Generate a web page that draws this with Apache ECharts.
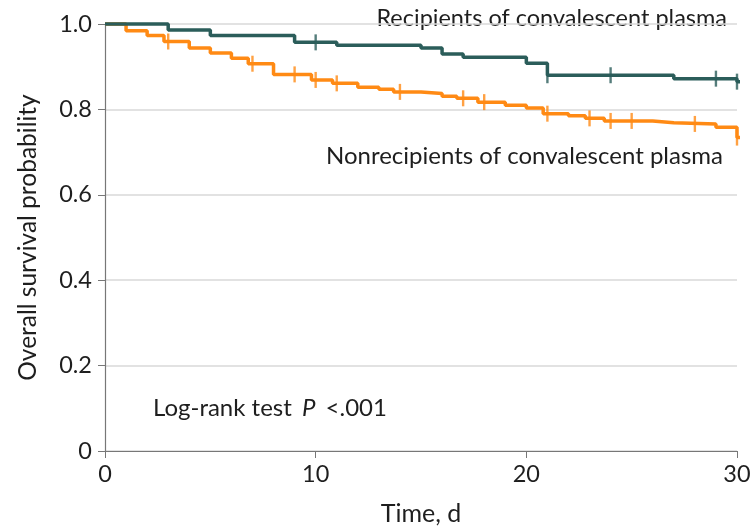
<!DOCTYPE html>
<html>
<head>
<meta charset="utf-8">
<script src="https://cdn.jsdelivr.net/npm/echarts@6/dist/echarts.min.js"></script>
<style>
  html, body { margin: 0; padding: 0; background: #fff; }
  #chart { width: 754px; height: 531px; }
</style>
</head>
<body>
<div id="chart"></div>
<script>
// Kaplan-Meier steps (day, survival after the drop)
var recipTimes = [0, 3, 5, 9, 11, 15, 16, 17, 20, 21, 27, 30, 30.3]
var recipSurv = [1, 0.986, 0.973, 0.957, 0.950, 0.944, 0.930, 0.922, 0.908, 0.880, 0.872, 0.865, 0.865]
var recipCensor = [10, 21, 24, 29, 30]

var nonTimes = [0, 1, 2, 2.8, 4, 5, 6, 6.8, 8, 9.8, 10.8, 12, 13, 13.7, 15, 16, 16.7, 17.7, 19, 20, 20.8, 22, 22.8, 23.7, 26, 27, 29, 30, 30.3]
var nonSurv = [1, 0.984, 0.973, 0.959, 0.944, 0.932, 0.920, 0.907, 0.882, 0.869, 0.861, 0.852, 0.847, 0.841, 0.837, 0.831, 0.826, 0.817, 0.810, 0.803, 0.790, 0.785, 0.779, 0.773, 0.769, 0.766, 0.758, 0.734, 0.734]
var nonCensor = [3, 7, 9, 10, 11, 14, 17, 18, 21, 23, 24, 25, 28, 30]

var xTicks = [0, 10, 20, 30]
var yTicks = [0, 0.2, 0.4, 0.6, 0.8, 1.0]

var green = '#2b5d5a'
var orange = '#ff8a14'
var fontFam = 'Lato, "Open Sans", sans-serif'
var ink = '#1e1e1e'

function pairs(ts, vs) {
  return ts.map(function (t, i) { return [t, vs[i]] })
}
// value of the step curve at a censor time
function survAt(ts, vs, t) {
  var v = vs[0]
  for (var i = 0; i < ts.length; i++) {
    if (ts[i] <= t) v = vs[i]
  }
  return v
}
function censorPts(ts, vs, cs) {
  return cs.map(function (c) { return [c, survAt(ts, vs, c)] })
}

var chart = echarts.init(document.getElementById('chart'))
chart.setOption({
  animation: false,
  grid: { left: 105, right: 17, top: 24, bottom: 78 },
  xAxis: {
    type: 'value',
    min: 0,
    max: 30,
    interval: 10,
    name: 'Time, d',
    nameLocation: 'middle',
    nameGap: 50,
    nameTextStyle: { fontSize: 25, color: ink, fontFamily: fontFam },
    axisLine: { lineStyle: { color: '#777', width: 1.2 } },
    axisTick: { show: true, length: 7, lineStyle: { color: '#777' } },
    axisLabel: {
      margin: 11, fontSize: 23.5, color: ink, fontFamily: fontFam,
      formatter: function (v) { return xTicks.indexOf(v) >= 0 ? String(v) : '' }
    },
    splitLine: { show: false }
  },
  yAxis: {
    type: 'value',
    min: 0,
    max: 1,
    interval: 0.2,
    name: 'Overall survival probability',
    nameLocation: 'middle',
    nameGap: 64,
    nameTextStyle: { fontSize: 24.5, color: ink, fontFamily: fontFam },
    axisLine: { show: true, lineStyle: { color: '#777', width: 1.2 } },
    axisTick: { show: true, length: 7, lineStyle: { color: '#777' } },
    axisLabel: {
      margin: 13, fontSize: 23.5, color: ink, fontFamily: fontFam,
      formatter: function (v) {
        var t = yTicks.find(function (y) { return Math.abs(y - v) < 1e-6 })
        if (t === undefined) return ''
        return t === 0 ? '0' : t.toFixed(1)
      }
    },
    splitLine: { show: true, lineStyle: { color: '#d9d9d9', width: 1.5 } }
  },
  graphic: [
    {
      type: 'text', right: 27, top: 6,
      style: { text: 'Recipients of convalescent plasma', fontSize: 23.5, fill: ink, fontFamily: fontFam }
    },
    {
      type: 'text', left: 326, top: 144,
      style: { text: 'Nonrecipients of convalescent plasma', fontSize: 24, fill: ink, fontFamily: fontFam }
    },
    {
      type: 'text', left: 153, top: 396,
      style: {
        text: 'Log-rank test {i|P} <.001',
        fontSize: 24, fill: ink, fontFamily: fontFam,
        rich: { i: { fontStyle: 'italic', fontSize: 24, fontFamily: fontFam, fill: ink, padding: [0, 4, 0, 4] } }
      }
    }
  ],
  series: [
    {
      name: 'Nonrecipients',
      type: 'line',
      step: 'end',
      clip: false,
      showSymbol: false,
      data: pairs(nonTimes, nonSurv),
      lineStyle: { color: orange, width: 3.5 },
      z: 3
    },
    {
      name: 'Recipients',
      type: 'line',
      step: 'end',
      clip: false,
      showSymbol: false,
      data: pairs(recipTimes, recipSurv),
      lineStyle: { color: green, width: 3.5 },
      z: 4
    },
    {
      type: 'scatter',
      symbol: 'rect',
      symbolSize: [2.4, 16],
      clip: false,
      data: censorPts(nonTimes, nonSurv, nonCensor),
      itemStyle: { color: orange },
      z: 5
    },
    {
      type: 'scatter',
      symbol: 'rect',
      symbolSize: [2.4, 16],
      clip: false,
      data: censorPts(recipTimes, recipSurv, recipCensor),
      itemStyle: { color: green },
      z: 6
    }
  ]
})
</script>
</body>
</html>
